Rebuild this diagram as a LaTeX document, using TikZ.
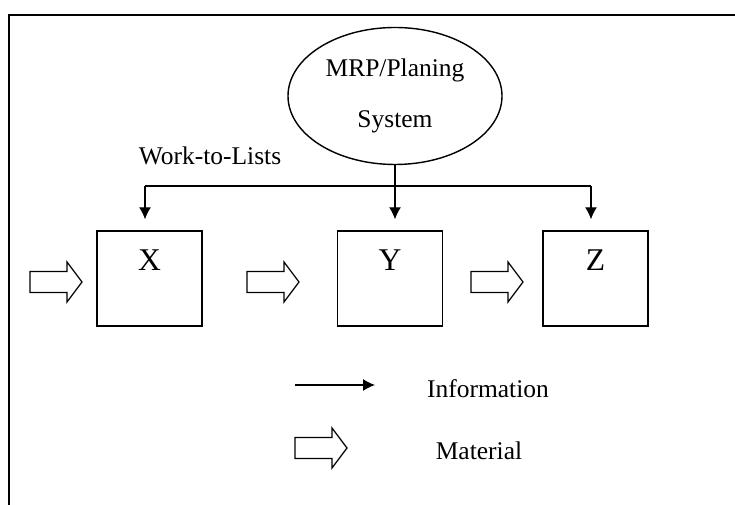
\documentclass[tikz,border=0pt]{standalone}
\usepackage{fontspec}
\setmainfont{Liberation Serif}
\usetikzlibrary{positioning,arrows.meta,shapes.geometric}

\begin{document}
\begin{tikzpicture}[
  x=0.2mm, y=-0.2mm,
  every node/.style={font=\fontsize{14.5}{17}\selectfont},
  planner/.style={ellipse,draw,line width=0.8pt,minimum width=4.28cm,minimum height=2.74cm,align=center},
  stage/.style={rectangle,draw,line width=0.8pt,minimum width=2.1cm,minimum height=1.9cm},
  letter/.style={font=\fontsize{18}{20}\selectfont,anchor=north,inner sep=0pt,yshift=-3.8mm},
  info/.style={-{Latex[length=2.4mm,width=2.4mm]},line width=0.7pt},
  material/.pic={
    \draw[line width=0.7pt] (0,-10.5) -- (37,-10.5) -- (37,-20) -- (52,0)
      -- (37,20) -- (37,10.5) -- (0,10.5) -- cycle;
  }
]
  \useasboundingbox (0,0) rectangle (735,505);
  % page frame
  \draw[line width=0.6pt] (735,15) -- (9,15) -- (9,505);

  \node[planner] (mrp) at (395,96) {MRP/Planing\\[12pt]System};
  \node (wtl) at (210,156) {Work-to-Lists};

  \node[stage,label={[letter]north:X}] (x) at (149.5,278.5) {};
  \node[stage,label={[letter]north:Y}] (y) at (390,278.5) {};
  \node[stage,label={[letter]north:Z}] (z) at (595.5,278.5) {};

  % information lines
  \coordinate (busl) at (145,186);
  \coordinate (busr) at (591,186);
  \draw[line width=0.7pt] (busl) -- (busr);
  \draw[info,shorten >=2.2mm] (mrp.south) -- (mrp.south |- y.north);
  \draw[info,shorten >=2.2mm] (busl) -- (busl |- x.north);
  \draw[info,shorten >=2.2mm] (busr) -- (busr |- z.north);

  % material flow
  \pic at (30,282) {material};
  \pic at (247,282) {material};
  \pic at (471,282) {material};

  % legend
  \coordinate (infos) at (295,385);
  \coordinate (infoe) at (375,385);
  \draw[info] (infos) -- (infoe);
  \node (infotext) at (488,389) {Information};
  \pic at (295,448) {material};
  \node (mattext) at (479,451) {Material};
\end{tikzpicture}
\end{document}
